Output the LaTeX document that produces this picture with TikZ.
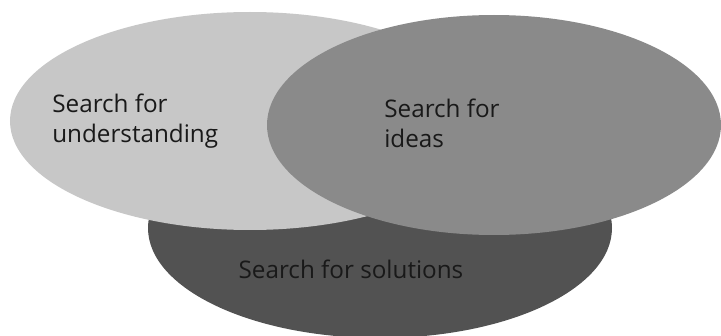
\documentclass[tikz,border=0pt]{standalone}
\usepackage{fontspec}
\setmainfont{Open Sans}
\definecolor{lightgrey}{gray}{0.78}
\definecolor{midgrey}{gray}{0.54}
\definecolor{darkgrey}{gray}{0.32}

\begin{document}
\begin{tikzpicture}[venntext/.style={align=left,inner sep=0pt,text=black!90,font=\fontsize{13.8}{17}\selectfont}]
  \useasboundingbox (0,0) rectangle (14.42,6.72);
  \fill[darkgrey] (7.6,2.16) ellipse [x radius=4.64cm,y radius=2.2cm];
  \fill[lightgrey] (5.0,4.3) ellipse [x radius=4.8cm,y radius=2.18cm];
  \fill[midgrey] (9.88,4.22) ellipse [x radius=4.54cm,y radius=2.2cm];
  \node[venntext,anchor=west] (understanding) at (1.04,4.3) {Search for\\understanding};
  \node[venntext,anchor=west] (ideas) at (7.68,4.26) {Search for\\ideas};
  \node[venntext] (solutions) at (7.02,1.34) {Search for solutions};
\end{tikzpicture}
\end{document}
